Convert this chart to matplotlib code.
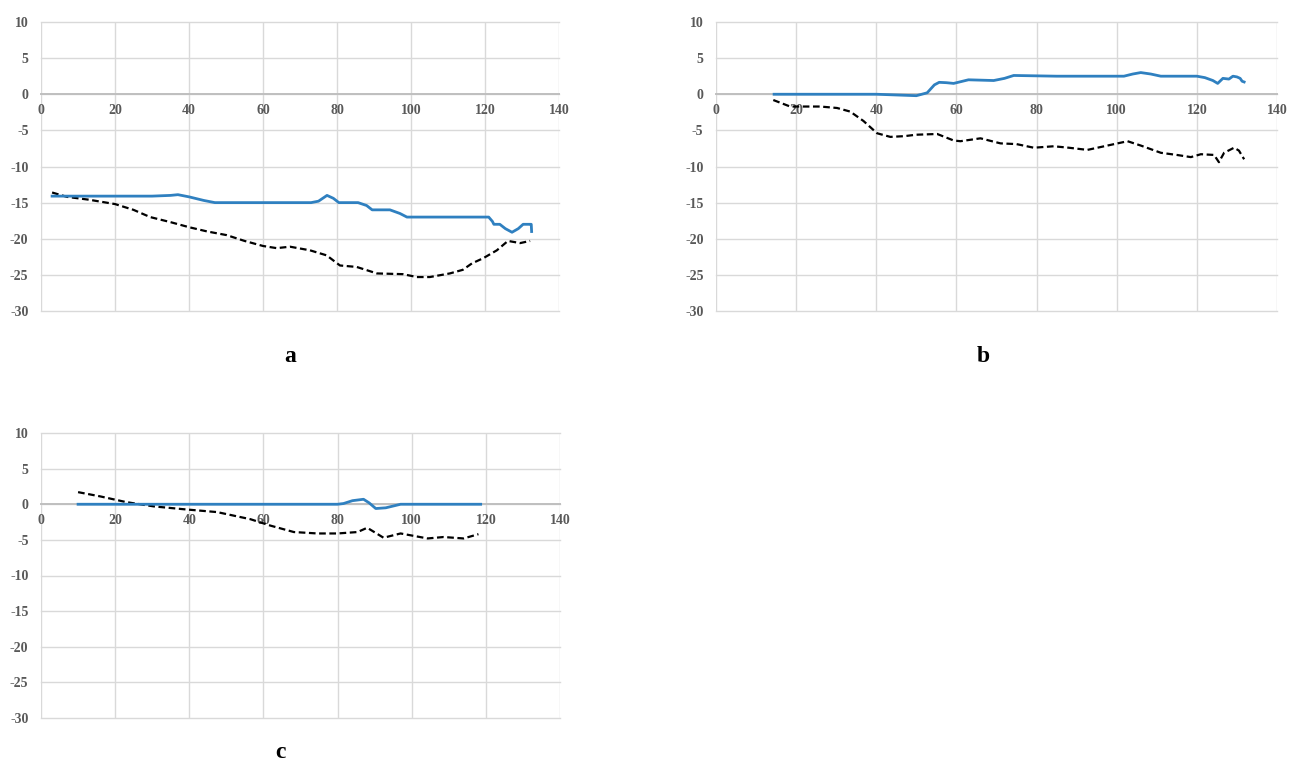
import matplotlib
matplotlib.use("Agg")
import matplotlib.pyplot as plt

plt.rcParams["axes.unicode_minus"] = False

# ---------------- data ----------------
# Panel a
a_blue_x = [3, 10, 20, 30, 35, 37, 40, 44, 47, 55, 65, 73, 75, 77.3, 79, 80.5, 85.7, 88, 89.5, 94.3, 97, 98.9, 105, 115, 121, 122, 122.4, 124, 125.5, 127.3, 129, 130.3, 132, 132.5, 132.6]
a_blue_y = [-14.1, -14.1, -14.1, -14.1, -14.0, -13.9, -14.2, -14.7, -15.0, -15.0, -15.0, -15.0, -14.8, -14.0, -14.4, -15.0, -15.0, -15.4, -16.0, -16.0, -16.5, -17.0, -17.0, -17.0, -17.0, -17.6, -18.0, -18.0, -18.6, -19.1, -18.6, -18.0, -18.0, -18.0, -19.0]
a_black_x = [3, 7, 13, 20, 25, 29.5, 35, 40, 45, 50.2, 55, 60, 63.7, 67.3, 72.7, 77.2, 80.8, 85.3, 90.8, 97.8, 101.6, 105.1, 110.5, 114, 116.5, 119.5, 123.2, 126.2, 129.5, 132.2]
a_black_y = [-13.6, -14.2, -14.6, -15.2, -16.0, -17.0, -17.7, -18.4, -19.0, -19.5, -20.3, -21.0, -21.3, -21.1, -21.6, -22.3, -23.7, -23.9, -24.8, -24.9, -25.3, -25.3, -24.8, -24.3, -23.4, -22.7, -21.6, -20.3, -20.6, -20.3]

# Panel b
b_blue_x = [14.5, 20, 30, 40, 45, 50, 52.7, 54.5, 55.7, 57.5, 59.3, 63, 69.3, 72, 74.3, 85, 95, 101.8, 104, 106, 108.5, 111, 115, 120, 122, 124, 125.2, 126.5, 128, 129, 130, 130.8, 131.3, 131.8]
b_blue_y = [0, 0, 0, 0, -0.1, -0.2, 0.2, 1.3, 1.65, 1.6, 1.5, 2.0, 1.9, 2.2, 2.6, 2.5, 2.5, 2.5, 2.8, 3.0, 2.8, 2.5, 2.5, 2.5, 2.3, 1.9, 1.5, 2.2, 2.1, 2.5, 2.4, 2.2, 1.8, 1.7]
b_black_x = [14.3, 18.5, 22, 26, 30.2, 33.5, 36.8, 40.2, 43.5, 47, 50, 55.2, 59.3, 61, 66, 71, 75, 79.3, 84.3, 88, 92.7, 97.7, 102.7, 106, 111, 115, 118.5, 121, 124.3, 125.5, 126.8, 129.3, 130.5, 131.8]
b_black_y = [-0.8, -1.7, -1.7, -1.7, -1.9, -2.4, -3.7, -5.4, -5.9, -5.8, -5.6, -5.5, -6.4, -6.5, -6.1, -6.8, -6.9, -7.4, -7.2, -7.4, -7.7, -7.1, -6.5, -7.1, -8.1, -8.4, -8.7, -8.3, -8.4, -9.4, -8.1, -7.4, -7.8, -9.0]

# Panel c
c_blue_x = [10, 20, 40, 60, 80, 81.6, 84, 87, 88.5, 90.3, 93, 97, 105, 118.6]
c_blue_y = [0, 0, 0, 0, 0, 0.1, 0.5, 0.7, 0.2, -0.6, -0.5, 0, 0, 0]
c_black_x = [10, 16, 23, 30.4, 38.5, 47.5, 53.8, 56.5, 61.9, 68.2, 74.6, 80, 85.4, 88, 92.4, 97, 104.3, 108.6, 114, 118]
c_black_y = [1.7, 1.1, 0.3, -0.3, -0.7, -1.1, -1.8, -2.1, -3.0, -3.9, -4.1, -4.1, -3.9, -3.3, -4.7, -4.1, -4.8, -4.6, -4.8, -4.2]

x_ticks = [0, 20, 40, 60, 80, 100, 120, 140]
y_ticks = [10, 5, 0, -5, -10, -15, -20, -25, -30]
panel_labels = ["a", "b", "c"]

# ---------------- style ----------------
W, H = 1290, 764
fig = plt.figure(figsize=(W / 100, H / 100), dpi=100)

BLUE = "#2f80c0"
TICKC = "#595959"
GRIDC = "#d9d9d9"
FONT = "Liberation Serif"

def make_ax(l, r, t, b):
    return fig.add_axes([l / W, 1 - b / H, (r - l) / W, (b - t) / H])

def style(ax):
    ax.set_xlim(0, 140)
    ax.set_ylim(-30, 10)
    ax.set_xticks(x_ticks)
    ax.set_yticks(y_ticks)
    ax.grid(True, color=GRIDC, lw=1.0)
    ax.set_axisbelow(True)
    for gl in ax.get_xgridlines() + ax.get_ygridlines():
        gl.set_clip_on(False)
    for s in ["top", "right", "left"]:
        ax.spines[s].set_visible(False)
    ax.spines["bottom"].set_position(("data", 0))
    ax.spines["bottom"].set_color("#bfbfbf")
    ax.spines["bottom"].set_linewidth(1.4)
    ax.tick_params(axis="both", length=0, labelcolor=TICKC, labelsize=10)
    ax.tick_params(axis="x", pad=7)
    ax.tick_params(axis="y", pad=9)
    for lab in ax.get_xticklabels() + ax.get_yticklabels():
        lab.set_fontfamily(FONT)
        lab.set_fontweight("bold")

axes_boxes = [(41, 559, 22, 311), (716, 1277, 22, 311), (41, 560, 433, 718)]
series = [
    (a_blue_x, a_blue_y, a_black_x, a_black_y),
    (b_blue_x, b_blue_y, b_black_x, b_black_y),
    (c_blue_x, c_blue_y, c_black_x, c_black_y),
]
label_pos = [(290, 356), (983, 356), (280, 752)]

for box, (bx, by, kx, ky), lab, lp in zip(axes_boxes, series, panel_labels, label_pos):
    ax = make_ax(*box)
    style(ax)
    ax.plot(kx, ky, color="black", lw=1.6, ls=(0, (3, 1.6)), zorder=3)
    ax.plot(bx, by, color=BLUE, lw=2.0, zorder=4, solid_joinstyle="round")
    fig.text(lp[0] / W, 1 - lp[1] / H, lab, fontfamily=FONT, fontweight="bold",
             fontsize=17, ha="center", va="center")

fig.savefig("out.png", dpi=100)
